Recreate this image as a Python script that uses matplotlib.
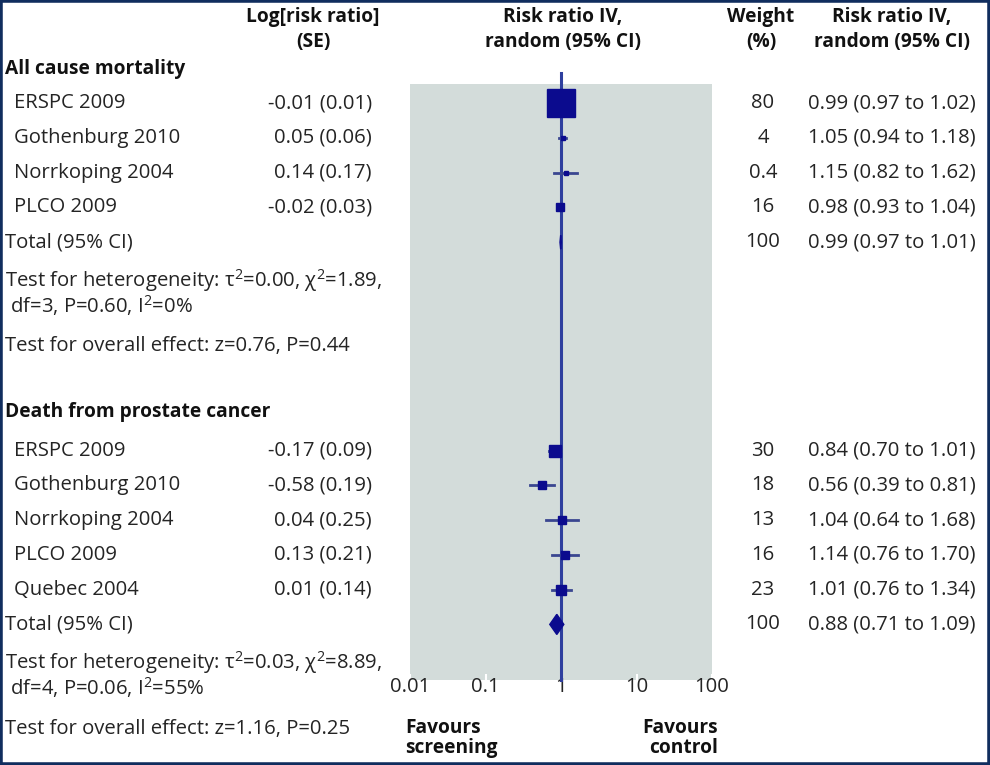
import numpy as np
import matplotlib.pyplot as plt
from matplotlib.transforms import blended_transform_factory
from matplotlib.patches import Rectangle

plt.rcParams['font.family'] = ['Open Sans', 'DejaVu Sans']
plt.rcParams['mathtext.fontset'] = 'custom'
plt.rcParams['mathtext.rm'] = 'Open Sans'
plt.rcParams['mathtext.it'] = 'Open Sans:italic'

# All cause mortality
studies1 = ["ERSPC 2009", "Gothenburg 2010", "Norrkoping 2004", "PLCO 2009"]
logrr1 = [-0.01, 0.05, 0.14, -0.02]
se1 = [0.01, 0.06, 0.17, 0.03]
weight1 = [80, 4, 0.4, 16]
rr1 = [0.99, 1.05, 1.15, 0.98]
lo1 = [0.97, 0.94, 0.82, 0.93]
hi1 = [1.02, 1.18, 1.62, 1.04]
total1 = [0.99, 0.97, 1.01]
het1 = "Test for heterogeneity: τ$^{2}$=0.00, χ$^{2}$=1.89,\n df=3, P=0.60, I$^{2}$=0%"
overall1 = "Test for overall effect: z=0.76, P=0.44"

# Death from prostate cancer
studies2 = ["ERSPC 2009", "Gothenburg 2010", "Norrkoping 2004", "PLCO 2009", "Quebec 2004"]
logrr2 = [-0.17, -0.58, 0.04, 0.13, 0.01]
se2 = [0.09, 0.19, 0.25, 0.21, 0.14]
weight2 = [30, 18, 13, 16, 23]
rr2 = [0.84, 0.56, 1.04, 1.14, 1.01]
lo2 = [0.70, 0.39, 0.64, 0.76, 0.76]
hi2 = [1.01, 0.81, 1.68, 1.70, 1.34]
total2 = [0.88, 0.71, 1.09]
het2 = "Test for heterogeneity: τ$^{2}$=0.03, χ$^{2}$=8.89,\n df=4, P=0.06, I$^{2}$=55%"
overall2 = "Test for overall effect: z=1.16, P=0.25"

ticks = [0.01, 0.1, 1, 10, 100]
tick_labels = ["0.01", "0.1", "1", "10", "100"]

W, H = 990, 765
FS = 14.6
FSB = 13.8
txt_col = '#242424'
mark_col = '#0b0b8e'
ci_col = '#3a4690'
line_col = '#2e3f9e'

fig = plt.figure(figsize=(W / 100, H / 100), dpi=100)
fig.patch.set_facecolor('white')

ax = fig.add_axes([410 / W, 1 - 680 / H, 302 / W, 596 / H])
ax.set_xscale('log')
ax.set_xlim(0.01, 100)
ax.set_ylim(17.6, 0.446)
ax.set_facecolor('#d3dcda')
for s in ax.spines.values():
    s.set_visible(False)
ax.set_xticks(ticks)
ax.set_xticklabels(tick_labels, fontsize=FS, color=txt_col)
ax.minorticks_off()
ax.tick_params(axis='x', direction='in', length=4, color='white', width=1.5, pad=-2)
ax.set_yticks([])

# line of no effect
ax.plot([1, 1], [0.13, 17.6], color=line_col, lw=2.2, clip_on=False, zorder=2)

tr = blended_transform_factory(fig.transFigure, ax.transData)


def fx(px):
    return px / W


def group(hrow, title, studies, logrr, se, weight, rr, lo, hi, total, het, overall, dh):
    r0 = int(round(hrow)) + 1
    fig.text(fx(5), hrow, title, transform=tr, fontsize=FSB, weight='bold',
             color='#111111', va='center')
    for i in range(len(studies)):
        y = r0 + i
        fig.text(fx(14), y, studies[i], transform=tr, fontsize=FS, color=txt_col, va='center')
        fig.text(fx(372), y, "%.2f (%.2f)" % (logrr[i], se[i]), transform=tr, fontsize=FS,
                 color=txt_col, va='center', ha='right')
        fig.text(fx(763), y, "%g" % weight[i], transform=tr, fontsize=FS, color=txt_col,
                 va='center', ha='center')
        fig.text(fx(808), y, "%.2f (%.2f to %.2f)" % (rr[i], lo[i], hi[i]), transform=tr,
                 fontsize=FS, color=txt_col, va='center')
        ax.plot([lo[i], hi[i]], [y, y], color=ci_col, lw=2, zorder=3)
        side = 3 + 0.31 * weight[i]
        ax.plot(rr[i], y, marker='s', ms=side * 0.72, color=mark_col, mec=mark_col, zorder=4)
    yt = r0 + len(studies)
    fig.text(fx(5), yt, "Total (95% CI)", transform=tr, fontsize=FS, color=txt_col, va='center')
    fig.text(fx(763), yt, "100", transform=tr, fontsize=FS, color=txt_col, va='center', ha='center')
    fig.text(fx(808), yt, "%.2f (%.2f to %.2f)" % tuple(total), transform=tr, fontsize=FS,
             color=txt_col, va='center')
    est, tlo, thi = total
    ax.fill([tlo, est, thi, est], [yt, yt - dh, yt, yt + dh], color=mark_col, zorder=4)
    # heterogeneity: two lines in one text
    fig.text(fx(5), yt + 1.45, het, transform=tr, fontsize=FS, color=txt_col, va='center',
             linespacing=0.97)
    fig.text(fx(5), yt + 3, overall, transform=tr, fontsize=FS, color=txt_col, va='center')


group(0, "All cause mortality", studies1, logrr1, se1, weight1, rr1, lo1, hi1,
      total1, het1, overall1, 0.2)
group(9.9, "Death from prostate cancer", studies2, logrr2, se2, weight2, rr2, lo2, hi2,
      total2, het2, overall2, 0.29)

# column headers
hdr = dict(fontsize=FSB, weight='bold', color='#111111', ha='center', va='center')
fig.text(fx(313), 1 - 17 / H, "Log[risk ratio]", **hdr)
fig.text(fx(313), 1 - 42 / H, "(SE)", **hdr)
fig.text(fx(563), 1 - 17 / H, "Risk ratio IV,", **hdr)
fig.text(fx(563), 1 - 42 / H, "random (95% CI)", **hdr)
fig.text(fx(761), 1 - 17 / H, "Weight", **hdr)
fig.text(fx(761), 1 - 42 / H, "(%)", **hdr)
fig.text(fx(892), 1 - 17 / H, "Risk ratio IV,", **hdr)
fig.text(fx(892), 1 - 42 / H, "random (95% CI)", **hdr)

# favours labels
fig.text(fx(405), 1 - 738 / H, "Favours\nscreening", fontsize=FSB, weight='bold',
         color='#111111', ha='left', va='center', linespacing=0.95)
fig.text(fx(718), 1 - 738 / H, "Favours\ncontrol", fontsize=FSB, weight='bold',
         color='#111111', ha='right', va='center', multialignment='right', linespacing=0.95)

# frame
fig.patches.append(Rectangle((0, 0), 1, 1, transform=fig.transFigure, fill=False,
                             edgecolor='#102d5e', lw=4, zorder=10))

fig.savefig("out.png", dpi=100)
